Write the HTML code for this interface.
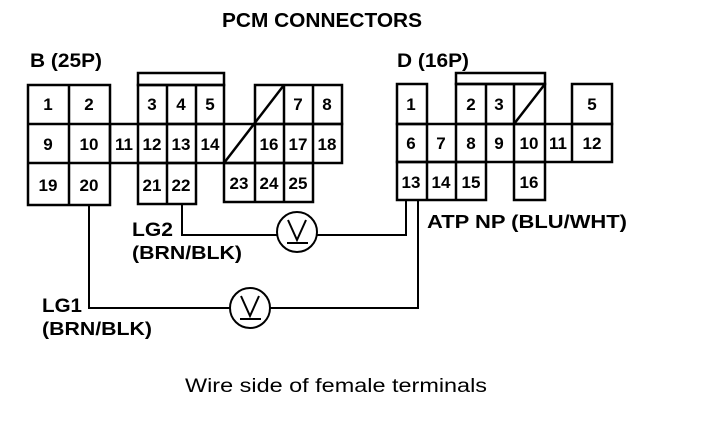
<!DOCTYPE html>
<html><head><meta charset="utf-8"><style>
html,body{margin:0;padding:0;background:#fff;}
svg{display:block}
text{font-family:"Liberation Sans",Arial,sans-serif;fill:#000}
.b{font-weight:bold}
.n{font-size:17px;font-weight:bold;text-anchor:middle}
</style></head><body>
<svg width="704" height="434" viewBox="0 0 704 434" xmlns="http://www.w3.org/2000/svg">
<g fill="none" stroke="#000" stroke-width="2.5">
<rect x="28" y="85" width="82" height="120"/>
<line x1="69" y1="85" x2="69" y2="205"/>
<rect x="110" y="124" width="232" height="39"/>
<rect x="138" y="73" width="86" height="12"/>
<rect x="138" y="85" width="86" height="39"/>
<line x1="167" y1="85" x2="167" y2="124"/><line x1="196" y1="85" x2="196" y2="124"/>
<rect x="255" y="85" width="87" height="39"/>
<line x1="284" y1="85" x2="284" y2="124"/><line x1="313" y1="85" x2="313" y2="124"/>
<line x1="28" y1="124" x2="110" y2="124"/><line x1="28" y1="163" x2="110" y2="163"/>
<line x1="138" y1="124" x2="138" y2="163"/><line x1="167" y1="124" x2="167" y2="163"/>
<line x1="196" y1="124" x2="196" y2="163"/><line x1="224" y1="124" x2="224" y2="163"/>
<line x1="255" y1="124" x2="255" y2="163"/><line x1="284" y1="124" x2="284" y2="163"/>
<line x1="313" y1="124" x2="313" y2="163"/>
<line x1="284" y1="85" x2="224" y2="163"/>
<rect x="138" y="163" width="58" height="41"/><line x1="167" y1="163" x2="167" y2="204"/>
<rect x="224" y="163" width="89" height="39"/>
<line x1="255" y1="163" x2="255" y2="202"/><line x1="284" y1="163" x2="284" y2="202"/>
<rect x="397" y="84" width="30" height="40"/>
<rect x="456" y="73" width="89" height="11"/>
<rect x="456" y="84" width="89" height="40"/>
<line x1="486" y1="84" x2="486" y2="124"/><line x1="514" y1="84" x2="514" y2="124"/>
<line x1="545" y1="84" x2="514" y2="124"/>
<rect x="572" y="84" width="40" height="40"/>
<rect x="397" y="124" width="215" height="38"/>
<line x1="427" y1="124" x2="427" y2="162"/><line x1="456" y1="124" x2="456" y2="162"/>
<line x1="486" y1="124" x2="486" y2="162"/><line x1="514" y1="124" x2="514" y2="162"/>
<line x1="545" y1="124" x2="545" y2="162"/><line x1="572" y1="124" x2="572" y2="162"/>
<rect x="397" y="162" width="89" height="38"/>
<line x1="427" y1="162" x2="427" y2="200"/><line x1="456" y1="162" x2="456" y2="200"/>
<rect x="514" y="162" width="31" height="38"/>
</g>
<g fill="none" stroke="#000" stroke-width="2">
<polyline points="182,204 182,235 277,235"/>
<polyline points="317,235 406,235 406,200"/>
<circle cx="297" cy="232" r="20"/>
<polyline points="288,220 297,240 306,220"/><line x1="287" y1="243" x2="308" y2="243"/>
<polyline points="89,205 89,308 230,308"/>
<polyline points="270,308 418,308 418,200"/>
<circle cx="250" cy="308" r="20"/>
<polyline points="241,296 250,316 259,296"/><line x1="240" y1="319" x2="261" y2="319"/>
</g>
<text class="b" x="222" y="27" font-size="20" textLength="200" lengthAdjust="spacingAndGlyphs">PCM CONNECTORS</text>
<text class="b" x="30" y="67" font-size="19" textLength="72" lengthAdjust="spacingAndGlyphs">B (25P)</text>
<text class="b" x="397" y="67" font-size="19" textLength="72" lengthAdjust="spacingAndGlyphs">D (16P)</text>
<g class="n">
<text x="48" y="110">1</text><text x="89" y="110">2</text>
<text x="152" y="110">3</text><text x="181" y="110">4</text><text x="210" y="110">5</text>
<text x="298" y="110">7</text><text x="327" y="110">8</text>
<text x="48" y="150">9</text><text x="89" y="150">10</text><text x="124" y="150">11</text>
<text x="152" y="150">12</text><text x="181" y="150">13</text><text x="210" y="150">14</text>
<text x="269" y="150">16</text><text x="298" y="150">17</text><text x="327" y="150">18</text>
<text x="48" y="191">19</text><text x="89" y="191">20</text>
<text x="152" y="191">21</text><text x="181" y="191">22</text>
<text x="239" y="189">23</text><text x="269" y="189">24</text><text x="298" y="189">25</text>
<text x="411" y="110">1</text><text x="471" y="110">2</text><text x="499" y="110">3</text>
<text x="592" y="110">5</text>
<text x="411" y="149">6</text><text x="441" y="149">7</text><text x="471" y="149">8</text>
<text x="499" y="149">9</text><text x="529" y="149">10</text><text x="558" y="149">11</text>
<text x="592" y="149">12</text>
<text x="411" y="188">13</text><text x="441" y="188">14</text><text x="471" y="188">15</text>
<text x="529" y="188">16</text>
</g>
<text class="b" x="132" y="236" font-size="19" textLength="41" lengthAdjust="spacingAndGlyphs">LG2</text>
<text class="b" x="132" y="259" font-size="18" textLength="110" lengthAdjust="spacingAndGlyphs">(BRN/BLK)</text>
<text class="b" x="42" y="312" font-size="19" textLength="40" lengthAdjust="spacingAndGlyphs">LG1</text>
<text class="b" x="42" y="335" font-size="18" textLength="110" lengthAdjust="spacingAndGlyphs">(BRN/BLK)</text>
<text class="b" x="427" y="228" font-size="18" textLength="200" lengthAdjust="spacingAndGlyphs">ATP NP (BLU/WHT)</text>
<text x="185" y="392" font-size="19" textLength="302" lengthAdjust="spacingAndGlyphs">Wire side of female terminals</text>
</svg>
</body></html>
